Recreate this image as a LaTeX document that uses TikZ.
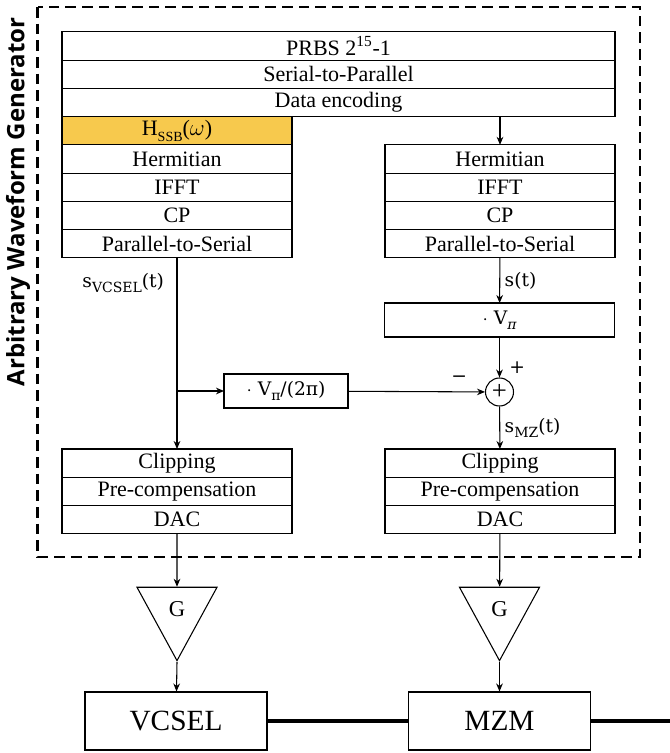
\documentclass[tikz,border=0pt]{standalone}
\usepackage{fontspec}
\setmainfont{Liberation Serif}
\newfontfamily\labelfont{DejaVu Serif}
\newfontfamily\titlefont{Open Sans}
\usepackage{tikz}
\usetikzlibrary{arrows.meta,positioning,shapes.geometric}
\definecolor{ssbyellow}{RGB}{247,201,77}
\newcommand{\lowsub}[1]{\raisebox{-0.28em}{\fontsize{10.5}{10.5}\selectfont #1}}
\tikzset{
  block/.style={
    draw,
    line width=0.8pt,
    inner sep=0pt,
    outer sep=0pt,
    minimum height=21.2pt,
    font=\fontsize{16.5}{16.5}\selectfont
  },
  col block/.style={
    block,
    minimum width=172.5pt
  },
  wide block/.style={
    block,
    minimum width=414.75pt
  },
  sig/.style={
    font=\labelfont\fontsize{14}{14}\selectfont
  },
  amp/.style={
    draw,
    line width=0.8pt,
    isosceles triangle,
    isosceles triangle stretches,
    shape border rotate=-90,
    minimum width=60pt,
    minimum height=55pt,
    inner sep=0pt,
    font=\fontsize{17}{17}\selectfont
  },
  device/.style={
    draw,
    line width=0.8pt,
    minimum width=136.5pt,
    minimum height=43.5pt,
    font=\fontsize{22}{22}\selectfont
  },
  frame/.style={
    draw,
    line width=1.6pt,
    dash pattern=on 8pt off 4.5pt
  },
  fiber/.style={
    line width=2.4pt
  }
}

\begin{document}
\begin{tikzpicture} [->, >={Stealth[length=6pt, width=5pt]}, x=0.75pt, y=-0.75pt, line width=0.8pt]
 \useasboundingbox (0,0) rectangle (670,753);
 % generator frame and title
 \draw[frame, -] (37.5,7) rectangle (640,557);
 \node[rotate=90, font=\titlefont\bfseries\fontsize{18}{18}\selectfont] (awg) at (18,202) {Arbitrary Waveform Generator};
 % common part
 \node[wide block] (prbs) at (338.5,45.9) {PRBS 2\textsuperscript{15}-1};
 \node[wide block] (s2p) [below=0pt of prbs] {Serial-to-Parallel};
 \node[wide block] (enc) [below=0pt of s2p] {Data encoding};
 % VCSEL branch
 \node[col block, fill=ssbyellow, anchor=north west] (hssb) at (enc.south west) {H\lowsub{SSB}($\omega$)};
 \node[col block] (herm1) [below=0pt of hssb] {Hermitian};
 \node[col block] (ifft1) [below=0pt of herm1] {IFFT};
 \node[col block] (cp1) [below=0pt of ifft1] {CP};
 \node[col block] (ps1) [below=0pt of cp1] {Parallel-to-Serial};
 % MZM branch
 \node[col block, anchor=north east] (herm2) at (enc.south east |- hssb.south) {Hermitian};
 \node[col block] (ifft2) [below=0pt of herm2] {IFFT};
 \node[col block] (cp2) [below=0pt of ifft2] {CP};
 \node[col block] (ps2) [below=0pt of cp2] {Parallel-to-Serial};
 \node[col block, minimum height=25.5pt, sig] (mul) at (499.5,320) {$\cdot$ V\lowsub{\itshape π}};
 \node[draw, circle, inner sep=0pt, minimum size=21pt, font=\fontsize{20}{20}\selectfont,
   label={[sig, label distance=0pt]70:+}, label={[sig, label distance=10pt]170:−}] (sum) at (499.5,392) {+};
 \node[block, minimum width=93pt, minimum height=25.5pt, sig] (scale) at (286,391) {$\cdot$ V\lowsub{π}/(2π)};
 % output stages
 \node[col block, anchor=north west] (clip1) at (62,449) {Clipping};
 \node[col block] (pre1) [below=0pt of clip1] {Pre-compensation};
 \node[col block] (dac1) [below=0pt of pre1] {DAC};
 \node[col block, anchor=north east] (clip2) at (enc.east |- clip1.north) {Clipping};
 \node[col block] (pre2) [below=0pt of clip2] {Pre-compensation};
 \node[col block] (dac2) [below=0pt of pre2] {DAC};
 \node[amp, anchor=apex] (amp1) at (177,662) {G};
 \node[amp, anchor=apex] (amp2) at (499.5,662) {G};
 \node[device] (vcsel) at (176,721) {VCSEL};
 \node[device] (mzm) at (499.5,721) {MZM};
 \coordinate (out) at (670,721);
 % signal paths
 \draw (enc.south -| herm2) -- (herm2);
 \draw (ps1) -- node[sig, left, pos=0.13, xshift=-6pt] {s\lowsub{VCSEL}(t)} (clip1);
 \draw (ps1.south |- scale) -- (scale);
 \draw (scale) -- (sum);
 \draw (ps2) -- node[sig, right] {s(t)} (mul);
 \draw (mul) -- (sum);
 \draw (sum) -- node[sig, right] {s\lowsub{MZ}(t)} (clip2);
 \draw (dac1) -- (amp1);
 \draw (dac2) -- (amp2);
 \draw (amp1.apex) -- (vcsel);
 \draw (amp2.apex) -- (mzm);
 \draw[fiber, -] (vcsel) -- (mzm) -- (out);
\end{tikzpicture}
\end{document}
